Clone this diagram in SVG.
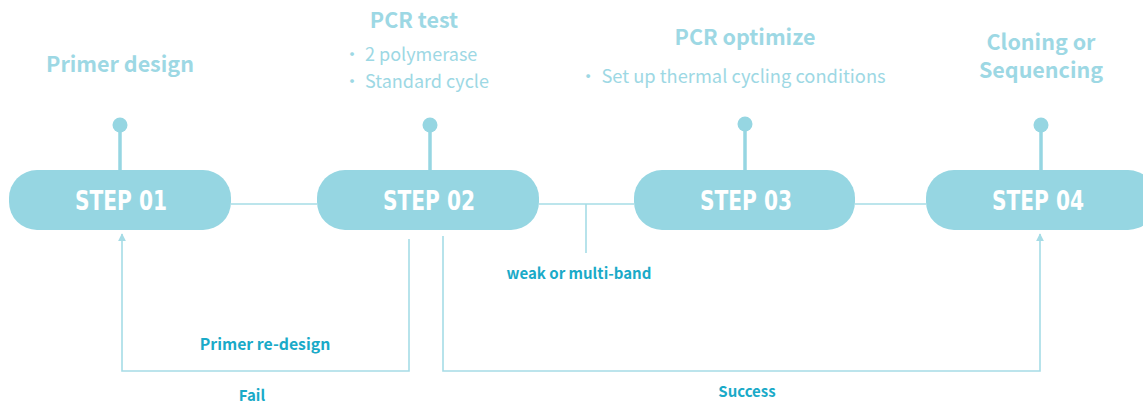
<svg xmlns="http://www.w3.org/2000/svg" width="1143" height="410" viewBox="0 0 1143 410">
<style>
.box{fill:#96d6e2}
.step{font-family:"DejaVu Sans Condensed","DejaVu Sans",sans-serif;font-weight:bold;font-size:26px;fill:#ffffff;text-anchor:middle}
.title{font-family:"Noto Sans CJK SC","Noto Sans",sans-serif;font-weight:bold;font-size:21.5px;fill:#9dd8e4;text-anchor:middle}
.bul{font-family:"Noto Sans CJK SC","Noto Sans",sans-serif;font-size:18px;fill:#9dd8e4}
.lab{font-family:"Noto Sans CJK SC","Noto Sans",sans-serif;font-weight:bold;font-size:15px;fill:#1aaac8;text-anchor:middle}
.pin{fill:#96d6e2}
.stem{stroke:#96d6e2;stroke-width:3.5}
.con{stroke:#a6dce6;stroke-width:1.6;fill:none}
</style>
<defs>
<marker id="arr" viewBox="0 0 10 10" refX="9" refY="5" markerWidth="8" markerHeight="8" markerUnits="userSpaceOnUse" orient="auto">
<path d="M0,0 L10,5 L0,10 z" fill="#a6dce6"/>
</marker>
</defs>
<g id="connectors">
<line class="con" x1="231" y1="204" x2="317" y2="204"/>
<line class="con" x1="539" y1="204" x2="634" y2="204"/>
<line class="con" x1="855" y1="204" x2="926" y2="204"/>
<line class="con" x1="586" y1="204" x2="586" y2="253"/>
<polyline class="con" points="409,239 409,371 122,371 122,234" marker-end="url(#arr)"/>
<polyline class="con" points="443,236 443,371 1040,371 1040,234" marker-end="url(#arr)"/>
<text class="lab" x="579" y="279">weak or multi-band</text>
<text class="lab" x="265" y="350" style="font-size:15.8px">Primer re-design</text>
<text class="lab" x="252" y="401">Fail</text>
<text class="lab" x="747" y="397">Success</text>
</g>
<g id="step01">
<line class="stem" x1="120" y1="126" x2="120" y2="170"/>
<circle class="pin" cx="120" cy="125" r="7.5"/>
<rect class="box" x="9" y="170" width="222" height="60" rx="28"/>
<text class="step" x="121" y="210" textLength="92" lengthAdjust="spacingAndGlyphs">STEP 01</text>
<text class="title" x="120" y="72">Primer design</text>
</g>
<g id="step02">
<line class="stem" x1="430" y1="126" x2="430" y2="170"/>
<circle class="pin" cx="430" cy="125" r="7.5"/>
<rect class="box" x="317" y="170" width="222" height="60" rx="28"/>
<text class="step" x="429" y="210" textLength="92" lengthAdjust="spacingAndGlyphs">STEP 02</text>
<text class="title" x="414" y="28">PCR test</text>
<text class="bul" x="343" y="61">・ 2 polymerase</text>
<text class="bul" x="343" y="88">・ Standard cycle</text>
</g>
<g id="step03">
<line class="stem" x1="745" y1="125" x2="745" y2="170"/>
<circle class="pin" cx="745" cy="124" r="7.5"/>
<rect class="box" x="634" y="170" width="221" height="60" rx="28"/>
<text class="step" x="746" y="210" textLength="92" lengthAdjust="spacingAndGlyphs">STEP 03</text>
<text class="title" x="745" y="45">PCR optimize</text>
<text class="bul" x="579" y="83" style="font-size:18.3px">・ Set up thermal cycling conditions</text>
</g>
<g id="step04">
<line class="stem" x1="1041" y1="126" x2="1041" y2="170"/>
<circle class="pin" cx="1041" cy="125" r="7.5"/>
<rect class="box" x="926" y="170" width="230" height="60" rx="28"/>
<text class="step" x="1038" y="210" textLength="92" lengthAdjust="spacingAndGlyphs">STEP 04</text>
<text class="title"><tspan x="1041" y="50">Cloning or</tspan><tspan x="1041" y="78">Sequencing</tspan></text>
</g>
</svg>
